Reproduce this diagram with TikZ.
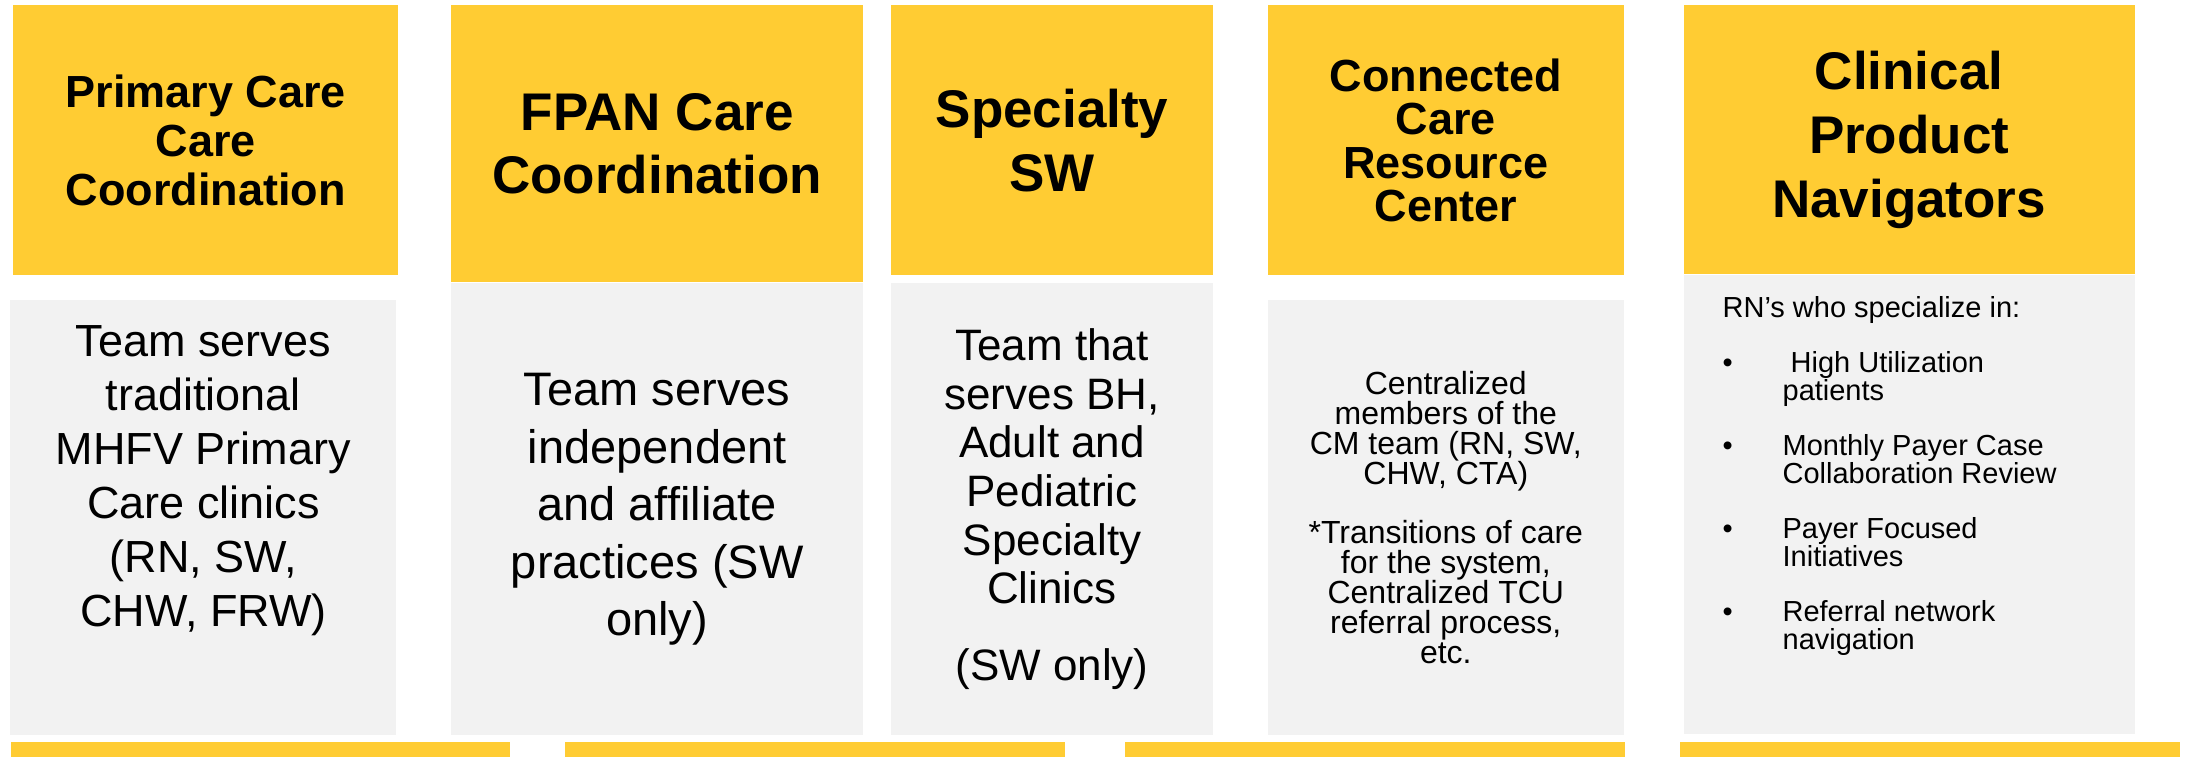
\documentclass[tikz,border=0pt]{standalone}
\usepackage{fontspec}
\setmainfont{Liberation Sans}
\usetikzlibrary{positioning}
\definecolor{amber}{RGB}{255, 204, 51}
\definecolor{pale}{RGB}{242, 242, 242}

\begin{document}
\begin{tikzpicture}[
        head/.style={fill=amber, minimum height=135pt, inner sep=0pt, align=center, anchor=north west},
        panel/.style={fill=pale, inner sep=0pt, align=center, anchor=north west},
        band/.style={fill=amber, minimum width=250pt, minimum height=7.5pt, inner sep=0pt, anchor=north west}]
        \useasboundingbox (0,0) rectangle (1094pt,-378.5pt);

        % Cabeçalhos
        \node[head, minimum width=192.5pt, font=\fontsize{22.5}{24.5}\selectfont\bfseries] (h1) at (6.5pt,-2.5pt) {Primary Care\\Care\\Coordination};
        \node[head, minimum width=206pt, minimum height=138.5pt, font=\fontsize{26.5}{31.5}\selectfont\bfseries, right=26pt of h1.north east, anchor=north west] (h2) {FPAN Care\\Coordination};
        \node[head, minimum width=161pt, font=\fontsize{26.5}{32}\selectfont\bfseries, right=13.5pt of h2.north east, anchor=north west] (h3) {Specialty\\SW};
        \node[head, minimum width=178pt, font=\fontsize{22.5}{21.7}\selectfont\bfseries, right=27pt of h3.north east, anchor=north west] (h4) {Connected\\Care\\Resource\\Center};
        \node[head, minimum width=225.5pt, minimum height=134.5pt, font=\fontsize{26.5}{32}\selectfont\bfseries, right=29.5pt of h4.north east, anchor=north west] (h5) {Clinical\\Product\\Navigators};

        % Caixas de descrição
        \node[panel, minimum width=193pt, minimum height=217.5pt, below=12pt of h1.south west, anchor=north west, xshift=-1.5pt] (b1) {};
        \node[panel, minimum width=206pt, minimum height=226pt, font=\fontsize{23.5}{28.75}\selectfont, below=0pt of h2.south west, anchor=north west] (b2) {Team serves\\independent\\and affiliate\\practices (SW\\only)};
        \node[panel, minimum width=161pt, minimum height=226pt, font=\fontsize{22}{24.35}\selectfont, below=3.5pt of h3.south west, anchor=north west] (b3) {Team that\\serves BH,\\Adult and\\Pediatric\\Specialty\\Clinics\\[14pt](SW only)};
        \node[panel, minimum width=178pt, minimum height=217.5pt, font=\fontsize{16}{15}\selectfont, below=12pt of h4.south west, anchor=north west] (b4) {Centralized\\members of the\\CM team (RN, SW,\\CHW, CTA)\\[14.5pt]*Transitions of care\\for the system,\\Centralized TCU\\referral process,\\etc.};
        \node[panel, minimum width=225.5pt, minimum height=229.5pt, below=0pt of h5.south west, anchor=north west] (b5) {};

        % Textos alinhados no topo
        \node[inner sep=0pt, align=center, font=\fontsize{22.5}{27}\selectfont, below=12.5pt of b1.north] (t1) {Team serves\\traditional\\MHFV Primary\\Care clinics\\(RN, SW,\\CHW, FRW)};
        \node[inner sep=0pt, align=left, font=\fontsize{14.5}{14}\selectfont, below right=10.75pt and 19.5pt of b5.north west, anchor=north west] (t5) {RN’s who specialize in:\\[13.5pt]
            \makebox[30pt][l]{\textbullet}\ High Utilization\\\hspace*{30pt}patients\\[13.5pt]
            \makebox[30pt][l]{\textbullet}Monthly Payer Case\\\hspace*{30pt}Collaboration Review\\[13.5pt]
            \makebox[30pt][l]{\textbullet}Payer Focused\\\hspace*{30pt}Initiatives\\[13.5pt]
            \makebox[30pt][l]{\textbullet}Referral network\\\hspace*{30pt}navigation};

        % Faixas inferiores
        \node[band, minimum width=249.5pt] (r1) at (5.5pt,-371pt) {};
        \node[band, right=27pt of r1.north east, anchor=north west] (r2) {};
        \node[band, right=29.5pt of r2.north east, anchor=north west] (r3) {};
        \node[band, right=27pt of r3.north east, anchor=north west] (r4) {};
    \end{tikzpicture}
\end{document}
